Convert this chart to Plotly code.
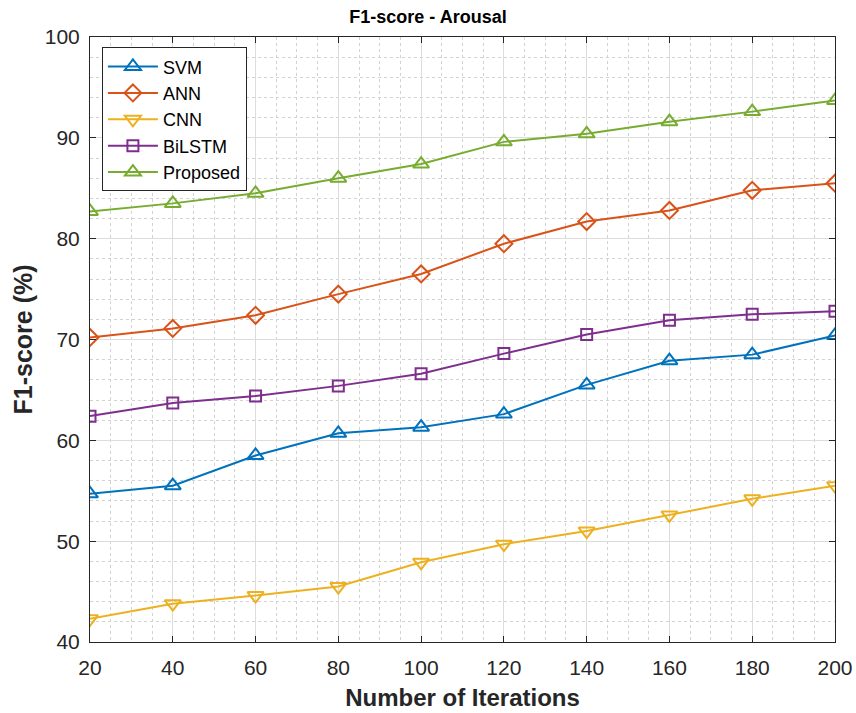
import plotly.graph_objects as go

iterations = [20, 40, 60, 80, 100, 120, 140, 160, 180, 200]
svm = [54.7, 55.5, 58.5, 60.7, 61.3, 62.6, 65.5, 67.9, 68.5, 70.4]
ann = [70.2, 71.1, 72.4, 74.5, 76.5, 79.5, 81.7, 82.8, 84.8, 85.5]
cnn = [42.3, 43.8, 44.6, 45.5, 47.9, 49.7, 51.0, 52.6, 54.2, 55.5]
bilstm = [62.4, 63.7, 64.4, 65.4, 66.6, 68.6, 70.5, 71.9, 72.5, 72.8]
proposed = [82.7, 83.5, 84.5, 86.0, 87.4, 89.6, 90.4, 91.6, 92.6, 93.7]

series = [
    ("SVM", svm, "#0072BD", "triangle-up-open", 14),
    ("ANN", ann, "#D95319", "diamond-open", 13),
    ("CNN", cnn, "#EDB120", "triangle-down-open", 14),
    ("BiLSTM", bilstm, "#7E2F8E", "square-open", 11),
    ("Proposed", proposed, "#77AC30", "triangle-up-open", 14),
]

fig = go.Figure()
for name, vals, color, sym, size in series:
    fig.add_trace(go.Scatter(
        x=iterations, y=vals, name=name, mode="lines+markers",
        line=dict(color=color, width=2),
        marker=dict(symbol=sym, size=size, color=color, line=dict(width=2, color=color)),
    ))

font_family = "Liberation Sans, Arial, sans-serif"
tick_color = "#262626"
grid_major = "#dcdcdc"
grid_minor = "#d2d2d2"

fig.update_layout(
    width=856, height=713,
    margin=dict(l=90, r=21, t=37, b=71, autoexpand=False),
    paper_bgcolor="white", plot_bgcolor="white",
    font=dict(family=font_family, color=tick_color, size=20),
    title=dict(text="<b>F1-score - Arousal</b>", x=0.5, xanchor="center",
               y=1 - 17 / 713, yanchor="middle", font=dict(size=18, color="#000000")),
    showlegend=True,
    legend=dict(x=0.016, y=0.983, xanchor="left", yanchor="top",
                bgcolor="white", bordercolor="#262626", borderwidth=1,
                font=dict(size=18, color="#000000"), tracegroupgap=0,
                itemwidth=50),
)

fig.update_xaxes(
    range=[20, 200], tickmode="array", tickvals=list(range(20, 201, 20)),
    showline=True, linecolor="#262626", linewidth=1, mirror="ticks",
    ticks="inside", ticklen=6, tickcolor="#262626",
    showgrid=True, gridcolor=grid_major, gridwidth=1,
    minor=dict(dtick=5, showgrid=True, gridcolor=grid_minor, griddash="dot", gridwidth=1),
    zeroline=False, tickfont=dict(size=21, color=tick_color), ticklabelstandoff=7,
    automargin=False,
    title=dict(text="<b>Number of Iterations</b>", font=dict(size=24, color=tick_color), standoff=10),
)
fig.update_yaxes(
    range=[40, 100], tickmode="array", tickvals=list(range(40, 101, 10)),
    showline=True, linecolor="#262626", linewidth=1, mirror="ticks",
    ticks="inside", ticklen=6, tickcolor="#262626",
    showgrid=True, gridcolor=grid_major, gridwidth=1,
    minor=dict(dtick=2, showgrid=True, gridcolor=grid_minor, griddash="dot", gridwidth=1),
    zeroline=False, tickfont=dict(size=21, color=tick_color), ticklabelstandoff=5,
    automargin=False,
    title=dict(text="<b>F1-score (%)</b>", font=dict(size=25, color=tick_color), standoff=5),
)

fig.write_html("out.html", config={"displayModeBar": False},
               post_script="document.body.style.margin='0';")
